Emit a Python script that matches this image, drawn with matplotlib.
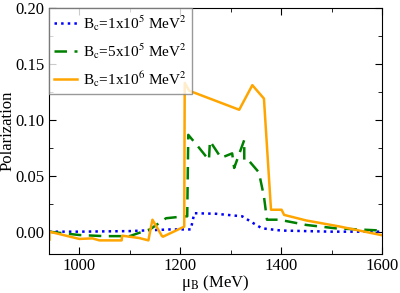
import matplotlib.pyplot as plt
from matplotlib.ticker import MultipleLocator

plt.rcParams['font.family'] = 'Liberation Serif'
plt.rcParams['mathtext.fontset'] = 'stix'

# B_c = 1x10^5 MeV^2
mu1 = [940, 1000, 1100, 1180, 1208, 1221, 1228, 1271, 1323, 1350, 1362, 1400, 1500, 1600]
p1 = [0.0, 0.0, 0.0005, 0.002, 0.002, 0.002, 0.0165, 0.016, 0.0137, 0.0062, 0.003, 0.001, 0.0, 0.0]

# B_c = 5x10^5 MeV^2
mu2 = [940, 960, 1000, 1050, 1100, 1119, 1140, 1172, 1208, 1214, 1216, 1238, 1257, 1259,
       1281, 1303, 1307, 1327, 1327, 1337, 1356, 1366, 1372, 1396, 1450, 1508, 1598]
p2 = [0.0, -0.001, -0.003, -0.004, -0.004, -0.001, 0.002, 0.012, 0.0137, 0.0137, 0.0866,
      0.0747, 0.064, 0.081, 0.066, 0.070, 0.057, 0.082, 0.063, 0.063, 0.053, 0.0315, 0.0107,
      0.0107, 0.006, 0.003, 0.001]

# B_c = 1x10^6 MeV^2
mu3 = [941, 941, 1000, 1026, 1040, 1084, 1085, 1119, 1137, 1145, 1164, 1166, 1208, 1209,
       1218, 1317, 1343, 1366, 1380, 1401, 1406, 1450, 1515, 1598]
p3 = [-0.007, 0.0, -0.0065, -0.006, -0.0078, -0.0078, -0.0036, -0.0057, -0.0078, 0.0107,
      -0.004, -0.0045, 0.0045, 0.133, 0.126, 0.109, 0.131, 0.119, 0.0196, 0.0196, 0.015,
      0.01, 0.0047, -0.003]

fig = plt.figure(figsize=(4, 2.93), dpi=100)
ax = fig.add_axes([0.1225, 0.133, 0.8325, 0.8397])

ax.plot(mu1, p1, color='#0000ff', ls=':', lw=1.8, label='B$_\\mathrm{c}$=1x10$^5$ MeV$^2$')
ax.plot(mu2, p2, color='#008000', ls=(0, (5, 3)), lw=1.8, label='B$_\\mathrm{c}$=5x10$^5$ MeV$^2$')
ax.plot(mu3, p3, color='#ffa500', ls='-', lw=1.8, label='B$_\\mathrm{c}$=1x10$^6$ MeV$^2$')

ax.set_xlim(940, 1600)
ax.set_ylim(-0.02, 0.20)
ax.xaxis.set_major_locator(MultipleLocator(200))
ax.xaxis.set_minor_locator(MultipleLocator(100))
ax.yaxis.set_major_locator(MultipleLocator(0.05))
ax.yaxis.set_minor_locator(MultipleLocator(0.025))
ax.yaxis.set_major_formatter(plt.FormatStrFormatter('%.2f'))
ax.tick_params(which='both', direction='in', top=True, right=True, labelsize=12, pad=3)
ax.tick_params(which='major', length=5)
ax.tick_params(which='minor', length=3)

ax.set_xlabel('μ$_\\mathrm{B}$ (MeV)', fontsize=12, labelpad=-1)
ax.set_ylabel('Polarization', fontsize=12, labelpad=0)
ax.yaxis.set_label_coords(-0.1, 0.5)

leg = ax.legend(loc='upper left', fontsize=11, frameon=True, fancybox=False,
                borderaxespad=0, handlelength=1.5, handletextpad=0.4,
                labelspacing=0.55, borderpad=0.35)
leg.get_frame().set_edgecolor('#808080')
leg.get_frame().set_linewidth(1.0)

fig.savefig('out.png', dpi=100)
